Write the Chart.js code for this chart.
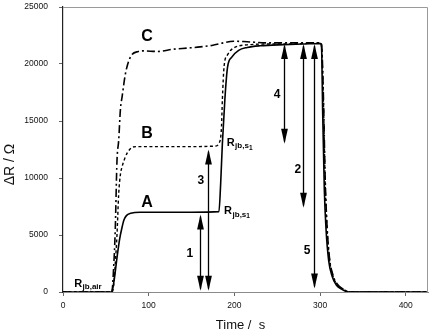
<!DOCTYPE html>
<html><head><meta charset="utf-8">
<script src="https://cdn.jsdelivr.net/npm/chart.js@4/dist/chart.umd.min.js"></script>
<style>html,body{margin:0;padding:0;background:#fff}</style>
</head><body>
<canvas id="c" width="431" height="333"></canvas>
<script>
// ---- data ----
const timeA = [0, 56, 58, 60, 63, 66, 69, 71, 74, 79, 90, 120, 150, 182, 184, 186, 189, 192, 197, 205, 215, 230, 258, 280, 301, 302, 303, 305, 307, 310, 314, 319, 324, 333, 426];
const resA  = [0, 0, 300, 1200, 3000, 4600, 5700, 6300, 6700, 6900, 7000, 7000, 7000, 7050, 9500, 13000, 17000, 19700, 20600, 21200, 21450, 21600, 21700, 21750, 21800, 21000, 16000, 9000, 5500, 2800, 1400, 600, 300, 0, 0];

const timeB = [0, 57, 59, 61, 63, 65, 67, 69, 72, 75, 80, 85, 120, 150, 178, 182, 185, 186, 188, 192, 199, 219, 240, 260, 280, 301, 302, 304, 306, 308, 311, 315, 320, 326, 335, 426];
const resB  = [0, 0, 500, 2500, 5000, 8600, 10300, 11000, 11700, 12200, 12650, 12750, 12750, 12750, 12800, 13050, 14500, 16850, 19780, 20800, 21400, 21700, 21750, 21750, 21800, 21850, 21300, 16500, 9500, 5800, 2900, 1400, 650, 300, 0, 0];

const timeC = [0, 57, 59, 61, 63, 65, 67, 69, 73, 79, 88, 94, 110, 129, 145, 160, 175, 184, 199, 215, 239, 260, 280, 301, 302, 304, 306, 308, 311, 315, 320, 326, 335, 426];
const resC  = [0, 0, 2000, 5500, 11500, 13300, 16000, 17140, 19200, 20650, 21100, 21150, 21100, 21300, 21400, 21500, 21650, 21800, 22000, 21950, 21850, 21850, 21850, 21850, 21500, 17000, 10000, 6000, 3000, 1500, 700, 300, 0, 0];

const xTicks = [0, 100, 200, 300, 400];
const yTicks = [0, 5000, 10000, 15000, 20000, 25000];

// double-headed arrows: time position, lower end, upper end, label and label position
const arrowTime  = [160, 169, 258, 280, 293];
const arrowFrom  = [100, 100, 13000, 7400, 300];
const arrowTo    = [6800, 12500, 21750, 21750, 21750];
const arrowText  = ['1', '3', '4', '2', '5'];
const arrowLabX  = [148, 161, 250, 274, 285];
const arrowLabY  = [3400, 9800, 17300, 10700, 3660];

const curveNames = ['A', 'B', 'C'];
const curveLabX  = [98, 98, 98];
const curveLabY  = [7800, 13920, 22400];

// R labels: [main, subscript, sub-subscript]
const rLabels = [['R', 'jb,air', ''], ['R', 'jb,s', '1'], ['R', 'jb,s', '1']];
const rLabX   = [13, 191, 188];
const rLabY   = [790, 13190, 7180];

const FONT = '"Liberation Sans", Arial, sans-serif';

const pts = (t, v) => t.map((x, i) => ({x, y: v[i]}));

const annot = {
  id: 'annot',
  afterDraw(chart) {
    const {ctx, chartArea: a, scales: {x, y}} = chart;
    ctx.save();
    // top and right frame
    ctx.strokeStyle = '#9a9a9a'; ctx.lineWidth = 1;
    ctx.beginPath();
    ctx.moveTo(a.left, a.top + 0.5); ctx.lineTo(a.right - 0.5, a.top + 0.5); ctx.lineTo(a.right - 0.5, a.bottom);
    ctx.stroke();

    // arrows
    ctx.fillStyle = '#000'; ctx.strokeStyle = '#000'; ctx.lineWidth = 1.3;
    const hl = 15, hw = 3.4;
    arrowTime.forEach((t, i) => {
      const px = Math.round(x.getPixelForValue(t)) + 0.5;
      const pb = y.getPixelForValue(arrowFrom[i]);
      const pt = y.getPixelForValue(arrowTo[i]);
      ctx.beginPath(); ctx.moveTo(px, pb - 2); ctx.lineTo(px, pt + 2); ctx.stroke();
      ctx.beginPath(); ctx.moveTo(px, pt); ctx.lineTo(px - hw, pt + hl); ctx.lineTo(px + hw, pt + hl); ctx.closePath(); ctx.fill();
      ctx.beginPath(); ctx.moveTo(px, pb); ctx.lineTo(px - hw, pb - hl); ctx.lineTo(px + hw, pb - hl); ctx.closePath(); ctx.fill();
      ctx.font = 'bold 12px ' + FONT; ctx.textAlign = 'center'; ctx.textBaseline = 'middle';
      ctx.fillText(arrowText[i], x.getPixelForValue(arrowLabX[i]), y.getPixelForValue(arrowLabY[i]));
    });

    // curve names
    ctx.font = 'bold 16px ' + FONT; ctx.textAlign = 'center'; ctx.textBaseline = 'middle';
    curveNames.forEach((n, i) => ctx.fillText(n, x.getPixelForValue(curveLabX[i]), y.getPixelForValue(curveLabY[i])));

    // R labels with subscripts
    ctx.textAlign = 'left'; ctx.textBaseline = 'alphabetic';
    rLabels.forEach((l, i) => {
      let px = x.getPixelForValue(rLabX[i]);
      const py = y.getPixelForValue(rLabY[i]) + 4;
      ctx.font = 'bold 11px ' + FONT; ctx.fillText(l[0], px, py); px += ctx.measureText(l[0]).width + 0.5;
      ctx.font = 'bold 8px ' + FONT; ctx.fillText(l[1], px, py + 2.5); px += ctx.measureText(l[1]).width;
      if (l[2]) { ctx.font = 'bold 6.5px ' + FONT; ctx.fillText(l[2], px, py + 4); }
    });

    // axis titles
    ctx.fillStyle = '#111';
    ctx.font = '13px ' + FONT; ctx.textAlign = 'center'; ctx.textBaseline = 'middle';
    ctx.fillText('Time /  s', (a.left + a.right) / 2 - 5, a.bottom + 33);
    ctx.save();
    ctx.translate(a.left - 53, (a.top + a.bottom) / 2 + 15);
    ctx.rotate(-Math.PI / 2);
    ctx.font = '14px ' + FONT;
    ctx.fillText('\u0394R / \u03A9', 0, 0);
    ctx.restore();
    ctx.restore();
  }
};

new Chart(document.getElementById('c'), {
  type: 'line',
  data: {
    datasets: [
      {label: 'A', data: pts(timeA, resA), borderColor: '#000', borderWidth: 1.6, pointRadius: 0, cubicInterpolationMode: 'monotone'},
      {label: 'B', data: pts(timeB, resB), borderColor: '#000', borderWidth: 1.4, borderDash: [3, 2.5], pointRadius: 0, cubicInterpolationMode: 'monotone'},
      {label: 'C', data: pts(timeC, resC), borderColor: '#000', borderWidth: 1.6, borderDash: [8, 3, 2, 3], pointRadius: 0, cubicInterpolationMode: 'monotone'}
    ]
  },
  options: {
    responsive: false,
    animation: false,
    layout: {padding: {left: 0, right: 3, top: 7, bottom: 0}},
    plugins: {legend: {display: false}, tooltip: {enabled: false}},
    scales: {
      x: {
        type: 'linear', min: 0, max: 426,
        afterBuildTicks: s => { s.ticks = xTicks.map(v => ({value: v})); },
        afterFit: s => { s.height = 41; s.paddingLeft = 0; s.paddingRight = 0; },
        grid: {drawOnChartArea: false, drawTicks: true, tickLength: 4, color: '#666'},
        border: {display: true, color: '#8a8a8a', width: 1},
        ticks: {padding: 5, color: '#111', font: {family: FONT, size: 8.5}, maxRotation: 0, callback: v => String(v)}
      },
      y: {
        type: 'linear', min: 0, max: 25000,
        afterBuildTicks: s => { s.ticks = yTicks.map(v => ({value: v})); },
        afterFit: s => { s.width = 63; s.paddingTop = 0; s.paddingBottom = 0; },
        grid: {drawOnChartArea: false, drawTicks: true, tickLength: 4, color: '#666'},
        border: {display: true, color: '#222', width: 1.2},
        ticks: {padding: 11, color: '#111', font: {family: FONT, size: 8.5}, callback: v => String(v)}
      }
    }
  },
  plugins: [annot]
});
</script>
</body></html>
